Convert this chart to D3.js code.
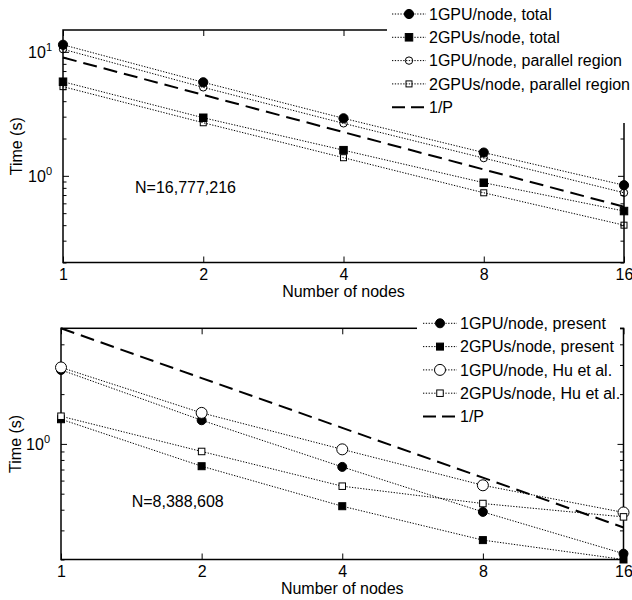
<!DOCTYPE html>
<html><head><meta charset="utf-8">
<script src="https://cdn.jsdelivr.net/npm/d3@7"></script>
<style>
body{margin:0;background:#fff}
svg{display:block}
text{font-family:"Liberation Sans",Arial,Helvetica,sans-serif;fill:#000}
</style></head>
<body><svg id="c" width="632" height="600"></svg>
<script>
// ---------- data ----------
const nodes = [1, 2, 4, 8, 16];
const xTickLabels = ["1", "2", "4", "8", "16"];
const yMajorTicks = [1, 10];

// top panel (N=16,777,216)
const topNames = ["1GPU/node, total", "2GPUs/node, total", "1GPU/node, parallel region", "2GPUs/node, parallel region", "1/P"];
const top1GpuTotal    = [11.4, 5.68, 2.91, 1.54, 0.84];
const top2GpuTotal    = [5.74, 2.94, 1.61, 0.88, 0.52];
const top1GpuParallel = [10.5, 5.17, 2.65, 1.39, 0.73];
const top2GpuParallel = [5.24, 2.68, 1.40, 0.73, 0.40];
const topIdeal        = [9, 4.5, 2.25, 1.125, 0.5625];

// bottom panel (N=8,388,608)
const botNames = ["1GPU/node, present", "2GPUs/node, present", "1GPU/node, Hu et al.", "2GPUs/node, Hu et al.", "1/P"];
const bot1GpuPresent = [2.80, 1.39, 0.726, 0.388, 0.217];
const bot2GpuPresent = [1.41, 0.733, 0.42, 0.262, 0.20];
const bot1GpuHu      = [2.90, 1.54, 0.927, 0.562, 0.385];
const bot2GpuHu      = [1.47, 0.90, 0.555, 0.436, 0.362];
const botIdeal       = [5, 2.5, 1.25, 0.625, 0.3125];

// ---------- drawing ----------
const svg = d3.select("#c");
svg.append("rect").attr("width", 632).attr("height", 600).attr("fill", "#fff");

function minorTicks(domain) {
  const out = [];
  for (let e = -2; e <= 2; e++) {
    for (let m = 2; m <= 9; m++) {
      const v = m * Math.pow(10, e);
      if (v >= domain[0] * 0.999 && v <= domain[1] * 1.001) out.push(v);
    }
  }
  return out;
}

function drawMarker(g, type, cx, cy, opt) {
  if (type === "circle") {
    g.append("circle").attr("cx", cx).attr("cy", cy).attr("r", opt.size)
      .attr("fill", opt.filled ? "#000" : opt.openFill).attr("stroke", "#000").attr("stroke-width", 1);
  } else if (type === "square") {
    g.append("rect").attr("x", cx - opt.size / 2).attr("y", cy - opt.size / 2)
      .attr("width", opt.size).attr("height", opt.size)
      .attr("fill", opt.filled ? "#000" : opt.openFill).attr("stroke", "#000").attr("stroke-width", 1);
  }
}

function drawPanel(cfg) {
  const g = svg.append("g");
  const x = d3.scaleLog().base(2).domain([1, 16]).range([cfg.x0, cfg.x1]);
  const y = d3.scaleLog().domain(cfg.yDomain).range([cfg.y1, cfg.y0]);
  const minors = minorTicks(cfg.yDomain);
  const majors = yMajorTicks.filter(v => v >= cfg.yDomain[0] && v <= cfg.yDomain[1]);

  // axes
  const ax = g.append("g").attr("class", "axes");
  const styleAxis = sel => {
    sel.select(".domain").remove();
    sel.selectAll(".tick line").attr("stroke", "#000").attr("stroke-width", 1);
    sel.selectAll(".tick text").attr("font-size", 16).attr("fill", "#000");
  };
  ax.append("g").attr("transform", `translate(0,${cfg.y1})`)
    .call(d3.axisBottom(x).tickValues(nodes).tickFormat((d, i) => xTickLabels[i]).tickSize(-6).tickPadding(6.5))
    .call(styleAxis);
  ax.append("g").attr("transform", `translate(0,${cfg.y0})`)
    .call(d3.axisTop(x).tickValues(nodes).tickFormat("").tickSize(-6)).call(styleAxis);
  const yl = ax.append("g").attr("transform", `translate(${cfg.x0},0)`)
    .call(d3.axisLeft(y).tickValues(majors).tickSize(-6).tickPadding(11)).call(styleAxis);
  yl.selectAll(".tick text").each(function (d) {
    const t = d3.select(this);
    t.text(null).attr("dy", "6");
    t.append("tspan").text("10");
    t.append("tspan").attr("dy", -7).attr("font-size", 11).text(Math.round(Math.log10(d)));
  });
  ax.append("g").attr("transform", `translate(${cfg.x0},0)`)
    .call(d3.axisLeft(y).tickValues(minors).tickFormat("").tickSize(-3.5)).call(styleAxis);
  ax.append("g").attr("transform", `translate(${cfg.x1},0)`)
    .call(d3.axisRight(y).tickValues(majors).tickFormat("").tickSize(-6)).call(styleAxis);
  ax.append("g").attr("transform", `translate(${cfg.x1},0)`)
    .call(d3.axisRight(y).tickValues(minors).tickFormat("").tickSize(-3.5)).call(styleAxis);
  ax.selectAll("g").attr("font-family", "Liberation Sans, Arial, Helvetica, sans-serif");
  ax.append("rect").attr("x", cfg.x0).attr("y", cfg.y0)
    .attr("width", cfg.x1 - cfg.x0).attr("height", cfg.y1 - cfg.y0)
    .attr("fill", "none").attr("stroke", "#000").attr("stroke-width", 1.5);

  // labels
  g.append("text").attr("x", (cfg.x0 + cfg.x1) / 2).attr("y", cfg.y1 + 34)
    .attr("text-anchor", "middle").attr("font-size", 16).text("Number of nodes");
  g.append("text").attr("transform", `translate(${cfg.ylabelX},${(cfg.y0 + cfg.y1) / 2}) rotate(-90)`)
    .attr("text-anchor", "middle").attr("font-size", 16).text("Time (s)");
  g.append("text").attr("x", cfg.note.x).attr("y", cfg.note.y)
    .attr("font-size", 16).text(cfg.note.text);

  // series
  const line = d3.line().x(d => x(d.n)).y(d => y(d.v));
  cfg.series.forEach(s => {
    const pts = nodes.map((n, i) => ({ n, v: s.values[i] }));
    g.append("path").datum(pts).attr("d", line).attr("fill", "none").attr("stroke", "#000")
      .attr("stroke-width", s.marker ? 1 : 2)
      .attr("stroke-dasharray", s.marker ? "1.3,1.5" : "14,7");
  });
  cfg.series.forEach(s => {
    if (!s.marker) return;
    const mg = g.append("g");
    nodes.forEach((n, i) => drawMarker(mg, s.marker, x(n), y(s.values[i]), { size: s.size, filled: s.filled, openFill: cfg.openFill }));
  });

  // legend
  const L = cfg.legend;
  const lg = svg.append("g");
  lg.append("rect").attr("x", L.bx).attr("y", L.by).attr("width", L.bw).attr("height", L.bh).attr("fill", "#fff");
  cfg.series.forEach((s, i) => {
    const ly = L.y0 + i * 23.3;
    lg.append("line").attr("x1", L.x0).attr("x2", L.x0 + 34).attr("y1", ly).attr("y2", ly)
      .attr("stroke", "#000").attr("stroke-width", s.marker ? 1 : 2)
      .attr("stroke-dasharray", s.marker ? "1.3,1.5" : "13,6");
    if (s.marker) drawMarker(lg, s.marker, L.x0 + 17, ly, { size: s.size, filled: s.filled, openFill: cfg.openFill });
    lg.append("text").attr("x", L.x0 + 37).attr("y", ly + 5.7).attr("font-size", 16).text(cfg.names[i]);
  });
}

drawPanel({
  x0: 63, x1: 624, y0: 30, y1: 262.5, yDomain: [0.2, 15], ylabelX: 22, openFill: "none",
  names: topNames,
  note: { text: "N=16,777,216", x: 135, y: 192.7 },
  series: [
    { values: top1GpuTotal, marker: "circle", filled: true, size: 4.6 },
    { values: top2GpuTotal, marker: "square", filled: true, size: 7.5 },
    { values: top1GpuParallel, marker: "circle", filled: false, size: 3.7 },
    { values: top2GpuParallel, marker: "square", filled: false, size: 6 },
    { values: topIdeal, marker: null }
  ],
  legend: { bx: 387, by: 0, bw: 250, bh: 123, x0: 392, y0: 14 }
});

drawPanel({
  x0: 61, x1: 623.5, y0: 328.3, y1: 559.5, yDomain: [0.2, 5], ylabelX: 20.5, openFill: "#fff",
  names: botNames,
  note: { text: "N=8,388,608", x: 131.7, y: 506.7 },
  series: [
    { values: bot1GpuPresent, marker: "circle", filled: true, size: 4.5 },
    { values: bot2GpuPresent, marker: "square", filled: true, size: 7 },
    { values: bot1GpuHu, marker: "circle", filled: false, size: 5.5 },
    { values: bot2GpuHu, marker: "square", filled: false, size: 6.5 },
    { values: botIdeal, marker: null }
  ],
  legend: { bx: 417, by: 308, bw: 203, bh: 122, x0: 423, y0: 323.3 }
});
</script></body></html>
